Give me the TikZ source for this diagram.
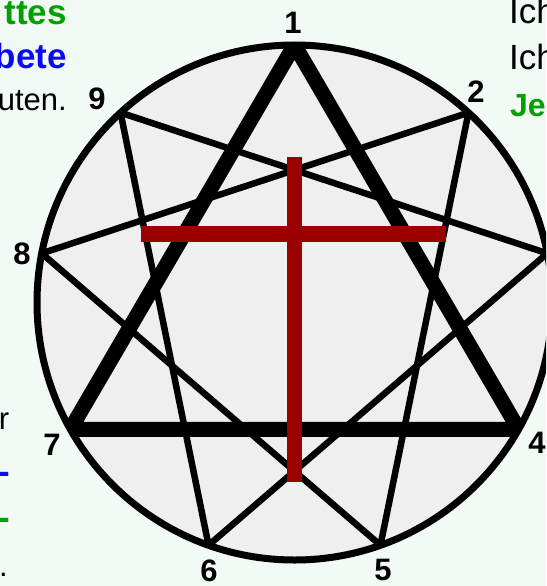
\documentclass[tikz,border=0pt]{standalone}
\usepackage{fontspec}
\setmainfont{Liberation Sans}
\definecolor{bg}{RGB}{242,250,245}
\definecolor{disc}{RGB}{239,239,239}
\definecolor{crossred}{RGB}{155,0,0}
\definecolor{tgreen}{RGB}{0,160,0}
\definecolor{tblue}{RGB}{10,10,245}
\begin{document}
\begin{tikzpicture}[x=1pt,y=-1pt,
  thinline/.style={line width=6.5pt, line join=miter},
  thickline/.style={line width=15pt, line join=miter},
  rim/.style={line width=7pt, draw=black},
  numlabel/.style={font=\fontsize{31}{31}\selectfont\bfseries, inner sep=0pt},
  sidetext/.style={font=\fontsize{31}{31}\selectfont, inner sep=0pt},
  bigtext/.style={font=\fontsize{35}{35}\selectfont, inner sep=0pt},
  boldtext/.style={font=\fontsize{35}{35}\selectfont\bfseries, inner sep=0pt},
  smallbold/.style={font=\fontsize{32}{32}\selectfont\bfseries, inner sep=0pt},
  crossbar/.style={fill=crossred, draw=none}]
\useasboundingbox (0,0) rectangle (546,586);
\clip (0,0) rectangle (546,586);
\fill[bg] (0,0) rectangle (546,586);
\def\cx{294.5}\def\cy{302.5}\def\R{257.5}
\foreach \n/\a in {1/0,2/42.5,3/79,4/119.5,5/160.5,6/199.5,7/240.5,8/281,9/317.5}
  \coordinate (v\n) at ({\cx+\R*sin(\a)},{\cy-\R*cos(\a)});
\coordinate (ctr) at (\cx,\cy);
\fill[disc] (ctr) circle[radius=\R];
\begin{scope}
  \clip (ctr) circle[radius=\R];
  \draw[thinline] (v2) -- (v5) -- (v8) -- cycle;
  \draw[thinline] (v3) -- (v6) -- (v9) -- cycle;
  \draw[thickline] (v1) -- (v4) -- (v7) -- cycle;
\end{scope}
\draw[rim] (ctr) circle[radius=\R];
% cross
\fill[crossbar] (287,157) rectangle (302,482);
\fill[crossbar] (141,226) rectangle (446,242);
% numbers
\node[numlabel] (n1) at (293,23) {1};
\node[numlabel] (n2) at (476,92) {2};
\node[numlabel] (n9) at (97,99) {9};
\node[numlabel] (n8) at (22,254) {8};
\node[numlabel] (n7) at (52,445) {7};
\node[numlabel] (n4) at (537,443) {4};
\node[numlabel] (n6) at (209,571) {6};
\node[numlabel] (n5) at (383,570) {5};
% side texts
\node[boldtext, text=tgreen, anchor=base east] (t1) at (67,25) {ttes};
\node[boldtext, text=tblue, anchor=base east] (t2) at (67,68) {bete};
\node[sidetext, anchor=base east] (t3) at (67,110) {uten.};
\node[bigtext, anchor=base west] (t4) at (509,24) {Ich};
\node[bigtext, anchor=base west] (t5) at (509,70) {Ich};
\node[smallbold, text=tgreen, anchor=base west] (t6) at (510,116) {Je};
\node[sidetext, anchor=base east] (t7) at (9.5,429) {r};
\node[boldtext, text=tblue, anchor=base east] (t8) at (10,483) {-};
\node[boldtext, text=tgreen, anchor=base east] (t9) at (10,529) {-};
\node[sidetext, anchor=base east] (t10) at (8,576) {.};
\end{tikzpicture}
\end{document}
